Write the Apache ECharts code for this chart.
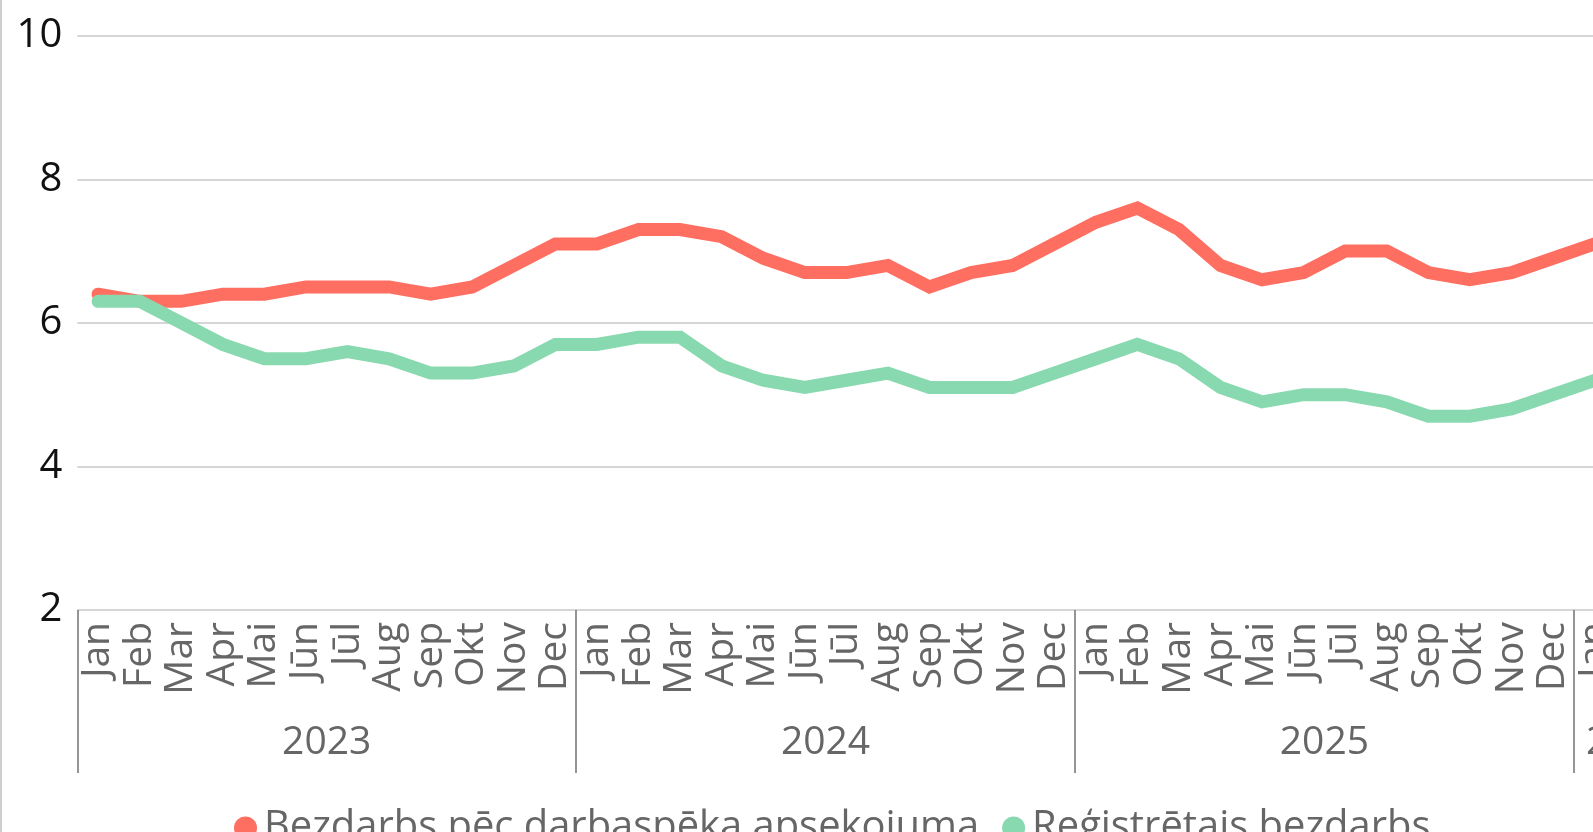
<!DOCTYPE html>
<html>
<head>
<meta charset="utf-8">
<script src="https://cdn.jsdelivr.net/npm/echarts@6/dist/echarts.min.js"></script>
<style>
  html, body { margin: 0; padding: 0; background: #fff; overflow: hidden; width: 1593px; height: 832px; }
  #chart { position: absolute; left: 0; top: 0; width: 1700px; height: 832px; }
</style>
</head>
<body>
<div id="chart"></div>
<script>
const months = ['Jan','Feb','Mar','Apr','Mai','Jūn','Jūl','Aug','Sep','Okt','Nov','Dec',
                'Jan','Feb','Mar','Apr','Mai','Jūn','Jūl','Aug','Sep','Okt','Nov','Dec',
                'Jan','Feb','Mar','Apr','Mai','Jūn','Jūl','Aug','Sep','Okt','Nov','Dec',
                'Jan'];
const years = ['2023','2023','2023','2023','2023','2023','2023','2023','2023','2023','2023','2023',
               '2024','2024','2024','2024','2024','2024','2024','2024','2024','2024','2024','2024',
               '2025','2025','2025','2025','2025','2025','2025','2025','2025','2025','2025','2025',
               '2026'];
const seriesNames = ['Bezdarbs pēc darbaspēka apsekojuma', 'Reģistrētais bezdarbs'];
const surveyUnemployment = [6.4,6.3,6.3,6.4,6.4,6.5,6.5,6.5,6.4,6.5,6.8,7.1,
                            7.1,7.3,7.3,7.2,6.9,6.7,6.7,6.8,6.5,6.7,6.8,7.1,
                            7.4,7.6,7.3,6.8,6.6,6.7,7.0,7.0,6.7,6.6,6.7,6.9,
                            7.1];
const registeredUnemployment = [6.3,6.3,6.0,5.7,5.5,5.5,5.6,5.5,5.3,5.3,5.4,5.7,
                                5.7,5.8,5.8,5.4,5.2,5.1,5.2,5.3,5.1,5.1,5.1,5.3,
                                5.5,5.7,5.5,5.1,4.9,5.0,5.0,4.9,4.7,4.7,4.8,5.0,
                                5.2];
const yTicks = [2, 10, 2]; // min, max, interval

const FONT = "'Segoe UI', 'Open Sans', 'Noto Sans', sans-serif";
const RED = '#FF6F61';
const GREEN = '#89D9B0';
const bandW = 41.57;

const chart = echarts.init(document.getElementById('chart'), null, { renderer: 'canvas' });
chart.setOption({
  animation: false,
  textStyle: { fontFamily: FONT },
  graphic: [{
    type: 'rect', left: 0, top: 0, shape: { x: 0, y: 0, width: 2, height: 832 },
    style: { fill: '#cfcfcf' }, silent: true
  }],
  legend: {
    left: 229, top: 803,
    itemWidth: 23, itemHeight: 23, itemGap: 23,
    icon: 'circle',
    data: seriesNames,
    textStyle: { fontFamily: FONT, fontSize: 39.9, color: '#666666', padding: [0, 0, 0, 2] }
  },
  grid: { left: 77.3, top: 35.7, right: 1700 - 77.3 - 37 * bandW, bottom: 832 - 610, containLabel: false },
  xAxis: [{
    type: 'category',
    data: months,
    boundaryGap: true,
    axisLine: { show: false },
    axisTick: { show: false },
    axisLabel: { rotate: 90, margin: 12, fontSize: 39, color: '#666666', fontFamily: FONT, interval: 0 }
  }, {
    type: 'category',
    data: years,
    position: 'bottom',
    offset: 0,
    boundaryGap: true,
    axisLine: { show: false },
    axisTick: {
      show: true, length: 163,
      interval: function (i) { return i % 12 === 0; },
      lineStyle: { color: '#7a7a7a', width: 1.6 }
    },
    axisLabel: {
      margin: 113,
      fontSize: 39, color: '#666666', fontFamily: FONT,
      interval: function (i) { return i % 12 === 6 || i === 36; },
      formatter: function (v, i) { return i === 36 ? '{e|' + v + '}' : '{m|' + v + '}'; },
      rich: {
        m: { fontSize: 39, color: '#666666', fontFamily: FONT, padding: [0, bandW, 0, 0] },
        e: { fontSize: 39, color: '#666666', fontFamily: FONT, padding: [0, 0, 0, 72] }
      }
    }
  }],
  yAxis: {
    type: 'value',
    min: yTicks[0], max: yTicks[1], interval: yTicks[2],
    axisLine: { show: false },
    axisTick: { show: false },
    axisLabel: { fontSize: 40, color: '#111111', margin: 15, fontFamily: FONT },
    splitLine: { lineStyle: { color: '#c8c8c8', width: 1.6 } }
  },
  series: [{
    name: seriesNames[0],
    type: 'line',
    data: surveyUnemployment,
    symbol: 'none',
    color: RED,
    lineStyle: { width: 13, color: RED, cap: 'round', join: 'miter' }
  }, {
    name: seriesNames[1],
    type: 'line',
    data: registeredUnemployment,
    symbol: 'none',
    color: GREEN,
    lineStyle: { width: 13, color: GREEN, cap: 'round', join: 'miter' }
  }]
});
</script>
</body>
</html>
